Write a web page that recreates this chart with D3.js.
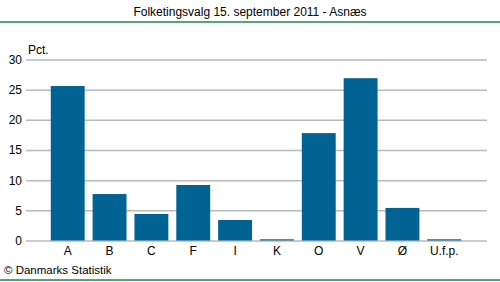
<!DOCTYPE html>
<html>
<head>
<meta charset="utf-8">
<script src="https://cdn.jsdelivr.net/npm/d3@7"></script>
<style>
  body { margin: 0; background: #fff; }
  text { font-family: "Liberation Sans", Arial, sans-serif; }
</style>
</head>
<body>
<svg id="chart" width="500" height="282"></svg>
<script>
// partier og stemmeandele (pct.)
var parties = ["A", "B", "C", "F", "I", "K", "O", "V", "Ø", "U.f.p."];
var shares = [25.6, 7.7, 4.4, 9.2, 3.4, 0.2, 17.8, 26.9, 5.4, 0.2];
var yTicks = [0, 5, 10, 15, 20, 25, 30];

var svg = d3.select("#chart");
var width = 500, height = 282;

var x = d3.scaleBand()
  .domain(parties)
  .range([47, 465])
  .paddingInner(0.19)
  .paddingOuter(0.09);

var y = d3.scaleLinear()
  .domain([0, 30])
  .range([240.5, 59.5]);

// green rules top and bottom
svg.append("line").attr("x1", 0).attr("x2", width).attr("y1", 22).attr("y2", 22)
  .attr("stroke", "#1a8a4a").attr("stroke-width", 1.5);
svg.append("line").attr("x1", 0).attr("x2", width).attr("y1", 280).attr("y2", 280)
  .attr("stroke", "#1a8a4a").attr("stroke-width", 1.5);

svg.append("text")
  .attr("x", 250).attr("y", 16)
  .attr("text-anchor", "middle")
  .attr("font-size", "12px")
  .attr("fill", "#000")
  .text("Folketingsvalg 15. september 2011 - Asnæs");

// grid
var grid = svg.append("g")
  .attr("transform", "translate(26,0)")
  .call(d3.axisLeft(y).tickValues(yTicks).tickSize(-461).tickFormat(""));
grid.select(".domain").remove();
grid.selectAll("line").attr("stroke", "#b9b9c0").attr("stroke-width", 1.5);

// y labels
var yAxis = svg.append("g")
  .attr("transform", "translate(24,0)")
  .call(d3.axisLeft(y).tickValues(yTicks).tickSize(0).tickPadding(2));
yAxis.select(".domain").remove();
yAxis.selectAll("text").attr("font-size", "12px").attr("fill", "#000")
  .attr("font-family", "Liberation Sans, Arial, sans-serif");

svg.append("text")
  .attr("x", 28).attr("y", 54)
  .attr("font-size", "12px")
  .text("Pct.");

// bars
svg.selectAll(".bar")
  .data(parties)
  .enter()
  .append("rect")
  .attr("class", "bar")
  .attr("x", function(d) { return x(d); })
  .attr("width", x.bandwidth())
  .attr("y", function(d, i) { return y(shares[i]); })
  .attr("height", function(d, i) { return y(0) - y(shares[i]); })
  .attr("fill", "#006393");

// x labels
var xAxis = svg.append("g")
  .attr("transform", "translate(0,241)")
  .call(d3.axisBottom(x).tickSize(0).tickPadding(5));
xAxis.select(".domain").remove();
xAxis.selectAll("text").attr("font-size", "12px").attr("fill", "#000")
  .attr("font-family", "Liberation Sans, Arial, sans-serif");

svg.append("text")
  .attr("x", 4).attr("y", 274)
  .attr("font-size", "11.5px")
  .text("© Danmarks Statistik");
</script>
</body>
</html>
